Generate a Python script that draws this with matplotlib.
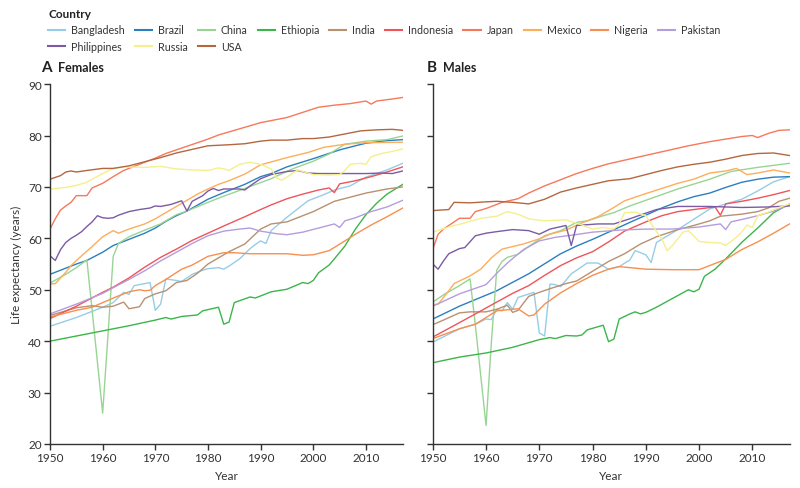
import matplotlib
matplotlib.use("Agg")
import matplotlib.pyplot as plt
from matplotlib.lines import Line2D

plt.rcParams['font.family'] = ['Lato', 'DejaVu Sans']

countries = ["Bangladesh", "Brazil", "China", "Ethiopia", "India", "Indonesia", "Japan",
             "Mexico", "Nigeria", "Pakistan", "Philippines", "Russia", "USA"]
colours = ["#96cde6", "#2b7fc0", "#98d594", "#3cb54a", "#b89170", "#f0545a", "#f7785a",
           "#fdae5b", "#f78f50", "#b59ddc", "#7b5aa6", "#f5ef8c", "#b4673f"]
year_ticks = [1950, 1960, 1970, 1980, 1990, 2000, 2010]
le_ticks = [20, 30, 40, 50, 60, 70, 80, 90]

# females: (year, life expectancy)
bangladesh_f = [(1950, 42.9), (1955, 44.6), (1960, 46.6), (1962, 47.5), (1963, 48.5), (1964, 49.5), (1965, 49.1),
                (1966, 50.8), (1969, 51.4), (1970, 46.0), (1971, 47.2), (1972, 52.1), (1974, 51.8), (1975, 51.6),
                (1977, 53.0), (1979, 53.8), (1980, 54.1), (1982, 54.3), (1983, 54.0), (1984, 54.6), (1985, 55.3),
                (1986, 56.0), (1988, 58.0), (1989, 58.8), (1990, 59.5), (1991, 59.0), (1992, 61.5), (1995, 64.1),
                (1999, 67.3), (2002, 68.5), (2004, 69.4), (2007, 70.2), (2010, 71.9), (2014, 73.3), (2017, 74.6)]
brazil_f = [(1950, 53.0), (1955, 55.0), (1957, 55.7), (1960, 57.3), (1962, 58.6), (1965, 59.8), (1968, 61.0),
            (1970, 62.0), (1972, 63.3), (1974, 64.4), (1976, 65.3), (1980, 67.6), (1983, 68.9), (1987, 70.5),
            (1990, 72.0), (1992, 72.6), (1995, 73.9), (2000, 75.5), (2005, 77.2), (2008, 78.0), (2010, 78.5),
            (2014, 79.0), (2017, 79.2)]
china_f = [(1950, 51.3), (1953, 53.0), (1955, 54.3), (1957, 55.8), (1958, 46.0), (1959, 36.0), (1960, 26.0),
           (1961, 41.0), (1962, 56.5), (1963, 59.0), (1965, 60.3), (1968, 61.6), (1971, 62.8), (1974, 64.6),
           (1976, 65.3), (1980, 67.0), (1983, 68.2), (1987, 69.7), (1992, 71.6), (1996, 73.5), (2000, 75.0),
           (2003, 76.4), (2006, 78.3), (2010, 78.9), (2014, 79.2), (2017, 79.9)]
ethiopia_f = [(1950, 40.0), (1955, 41.0), (1960, 42.0), (1965, 43.0), (1970, 44.1), (1972, 44.6), (1973, 44.3),
              (1975, 44.8), (1978, 45.1), (1979, 45.9), (1982, 46.6), (1983, 43.3), (1984, 43.7), (1985, 47.5),
              (1988, 48.6), (1989, 48.4), (1990, 48.8), (1992, 49.6), (1995, 50.1), (1998, 51.4), (1999, 51.2),
              (2000, 51.8), (2001, 53.3), (2003, 54.8), (2004, 56.0), (2006, 58.5), (2008, 61.8), (2010, 64.6),
              (2012, 66.8), (2014, 68.6), (2017, 70.5)]
india_f = [(1950, 45.0), (1955, 46.5), (1958, 46.9), (1960, 46.6), (1962, 46.8), (1964, 47.6), (1965, 46.3),
           (1967, 46.7), (1968, 48.3), (1970, 49.2), (1972, 49.8), (1974, 51.4), (1976, 51.8), (1978, 53.2),
           (1980, 55.0), (1984, 57.4), (1987, 58.9), (1990, 61.8), (1992, 62.8), (1995, 63.2), (2000, 65.2),
           (2004, 67.2), (2010, 68.8), (2014, 69.6), (2017, 70.0)]
indonesia_f = [(1950, 44.4), (1955, 46.8), (1960, 49.5), (1962, 50.5), (1965, 52.3), (1968, 54.4), (1971, 56.3),
               (1974, 57.9), (1977, 59.6), (1980, 61.0), (1983, 62.4), (1987, 64.2), (1990, 65.6), (1992, 66.5),
               (1995, 67.7), (1998, 68.6), (2001, 69.4), (2003, 69.8), (2004, 68.9), (2005, 70.6), (2008, 71.2),
               (2011, 72.0), (2014, 72.9), (2017, 73.9)]
japan_f = [(1950, 61.8), (1951, 63.8), (1952, 65.5), (1953, 66.3), (1954, 67.0), (1955, 68.3), (1957, 68.3),
           (1958, 69.8), (1960, 70.7), (1962, 72.0), (1964, 73.2), (1966, 74.0), (1968, 74.8), (1970, 75.6),
           (1972, 76.5), (1974, 77.2), (1976, 77.9), (1978, 78.6), (1980, 79.3), (1982, 80.1), (1985, 81.0),
           (1988, 81.9), (1990, 82.5), (1993, 83.1), (1995, 83.5), (1998, 84.5), (2001, 85.5), (2004, 85.9),
           (2007, 86.2), (2010, 86.7), (2011, 86.1), (2012, 86.7), (2015, 87.1), (2017, 87.4)]
mexico_f = [(1950, 51.1), (1951, 51.2), (1953, 53.4), (1954, 54.7), (1956, 56.6), (1958, 58.4), (1960, 60.3),
            (1962, 61.5), (1963, 61.0), (1965, 61.8), (1968, 62.8), (1970, 63.8), (1972, 65.0), (1974, 66.2),
            (1976, 67.4), (1978, 68.6), (1980, 69.6), (1982, 70.5), (1984, 71.2), (1987, 72.5), (1990, 74.3),
            (1995, 75.7), (1999, 76.7), (2002, 77.7), (2006, 78.3), (2010, 78.6), (2017, 78.7)]
nigeria_f = [(1950, 44.7), (1955, 46.0), (1958, 46.6), (1960, 47.5), (1963, 48.8), (1965, 49.6), (1967, 50.0),
             (1968, 49.8), (1969, 49.9), (1970, 50.8), (1972, 52.0), (1975, 54.0), (1977, 54.8), (1980, 56.5),
             (1983, 57.2), (1985, 57.2), (1988, 57.0), (1992, 57.0), (1995, 57.0), (1998, 56.7), (2000, 56.8),
             (2003, 57.6), (2006, 59.5), (2008, 60.8), (2011, 62.6), (2014, 64.2), (2017, 65.9)]
pakistan_f = [(1950, 45.3), (1955, 47.2), (1960, 49.3), (1962, 50.4), (1965, 52.0), (1968, 53.7), (1971, 55.6),
              (1974, 57.3), (1977, 59.0), (1980, 60.5), (1983, 61.4), (1986, 61.8), (1988, 62.0), (1990, 61.4),
              (1993, 60.9), (1995, 60.7), (1998, 61.2), (2001, 62.0), (2004, 62.8), (2005, 62.1), (2006, 63.4),
              (2008, 64.0), (2011, 65.2), (2014, 66.1), (2017, 67.4)]
philippines_f = [(1950, 56.6), (1951, 55.7), (1952, 57.8), (1953, 59.2), (1954, 60.0), (1955, 60.6), (1956, 61.3),
                 (1957, 62.3), (1958, 63.2), (1959, 64.4), (1960, 64.0), (1961, 63.9), (1962, 64.0), (1963, 64.5),
                 (1965, 65.2), (1967, 65.6), (1969, 65.9), (1970, 66.3), (1971, 66.2), (1973, 66.6), (1975, 67.3),
                 (1976, 65.3), (1977, 67.2), (1979, 68.3), (1980, 69.2), (1981, 69.7), (1982, 69.3), (1983, 69.6),
                 (1986, 69.6), (1987, 69.4), (1988, 70.2), (1990, 71.6), (1992, 72.4), (1995, 73.0), (1997, 73.2),
                 (1999, 72.7), (2001, 72.6), (2005, 72.6), (2010, 72.6), (2013, 72.7), (2015, 72.6), (2017, 73.1)]
russia_f = [(1950, 69.6), (1953, 69.9), (1955, 70.3), (1957, 70.9), (1958, 71.5), (1960, 72.6), (1962, 73.6),
            (1964, 73.9), (1968, 73.8), (1971, 74.0), (1974, 73.5), (1977, 73.3), (1980, 73.2), (1982, 73.7),
            (1983, 73.5), (1984, 73.2), (1986, 74.4), (1988, 74.8), (1990, 74.4), (1992, 73.5), (1993, 71.8),
            (1994, 71.3), (1995, 71.9), (1997, 73.3), (1998, 73.0), (2000, 72.4), (2003, 72.3), (2005, 72.4),
            (2006, 73.2), (2007, 74.4), (2009, 74.6), (2010, 74.4), (2011, 75.9), (2013, 76.5), (2015, 76.9),
            (2017, 77.4)]
usa_f = [(1950, 71.5), (1952, 72.2), (1953, 72.9), (1954, 73.1), (1955, 72.9), (1957, 73.2), (1960, 73.6),
         (1962, 73.6), (1965, 74.1), (1968, 74.9), (1971, 75.7), (1974, 76.6), (1977, 77.3), (1980, 78.0),
         (1984, 78.2), (1987, 78.4), (1990, 78.9), (1992, 79.1), (1995, 79.1), (1998, 79.4), (2000, 79.4),
         (2003, 79.7), (2006, 80.3), (2009, 80.9), (2012, 81.1), (2015, 81.2), (2017, 81.0)]

# males
bangladesh_m = [(1950, 39.8), (1955, 42.4), (1958, 43.3), (1960, 44.3), (1961, 44.2), (1962, 46.2), (1963, 45.9),
                (1964, 47.5), (1965, 46.2), (1966, 48.5), (1969, 49.5), (1970, 41.6), (1971, 41.0), (1972, 51.1),
                (1973, 51.0), (1974, 50.6), (1976, 53.1), (1979, 55.2), (1981, 55.2), (1983, 54.0), (1985, 54.5),
                (1987, 55.8), (1988, 57.6), (1990, 56.8), (1991, 55.3), (1992, 59.2), (1996, 61.7), (1999, 63.7),
                (2002, 65.7), (2005, 66.7), (2008, 67.6), (2011, 69.2), (2014, 71.0), (2017, 72.0)]
brazil_m = [(1950, 44.3), (1955, 46.8), (1962, 49.8), (1968, 53.1), (1974, 57.0), (1977, 58.5), (1980, 59.8),
            (1983, 61.2), (1987, 63.1), (1990, 64.5), (1993, 65.9), (1996, 67.1), (1999, 68.1), (2002, 68.8),
            (2005, 69.9), (2008, 70.9), (2011, 71.5), (2014, 71.9), (2017, 72.0)]
china_m = [(1950, 47.6), (1952, 49.0), (1955, 50.8), (1957, 52.1), (1958, 43.0), (1959, 33.3), (1960, 23.6),
           (1961, 39.8), (1962, 53.8), (1963, 55.5), (1964, 56.3), (1966, 56.9), (1968, 58.4), (1971, 60.5),
           (1974, 61.5), (1977, 63.1), (1979, 63.4), (1982, 64.4), (1984, 65.0), (1987, 66.3), (1990, 67.4),
           (1996, 69.6), (2002, 71.5), (2006, 73.0), (2011, 73.8), (2017, 74.6)]
ethiopia_m = [(1950, 35.8), (1955, 36.9), (1960, 37.7), (1965, 38.8), (1970, 40.3), (1972, 40.7), (1973, 40.5),
              (1975, 41.1), (1977, 41.0), (1978, 41.2), (1979, 42.2), (1982, 43.1), (1983, 39.9), (1984, 40.4),
              (1985, 44.3), (1987, 45.3), (1988, 45.7), (1989, 45.3), (1990, 45.6), (1992, 46.6), (1995, 48.3),
              (1998, 50.0), (1999, 49.6), (2000, 50.1), (2001, 52.6), (2003, 54.0), (2005, 56.0), (2008, 59.2),
              (2011, 62.0), (2014, 65.0), (2017, 66.7)]
india_m = [(1950, 43.2), (1952, 44.1), (1955, 45.5), (1957, 45.7), (1960, 45.7), (1962, 46.2), (1964, 47.0),
           (1965, 45.6), (1966, 46.0), (1968, 48.7), (1970, 49.5), (1972, 50.2), (1975, 51.2), (1977, 51.7),
           (1980, 53.6), (1983, 55.5), (1986, 57.0), (1989, 58.9), (1992, 60.3), (1996, 61.7), (1999, 62.5),
           (2002, 63.4), (2004, 64.3), (2008, 64.7), (2011, 65.2), (2013, 65.9), (2015, 67.2), (2017, 67.8)]
indonesia_m = [(1950, 40.8), (1955, 43.6), (1958, 45.3), (1962, 47.6), (1965, 49.3), (1968, 50.8), (1971, 52.8),
               (1974, 54.7), (1977, 56.2), (1980, 57.4), (1983, 59.3), (1986, 61.4), (1990, 63.2), (1993, 64.4),
               (1996, 65.2), (1999, 65.6), (2003, 66.1), (2004, 64.5), (2005, 66.7), (2008, 67.2), (2011, 67.8),
               (2014, 68.5), (2017, 69.3)]
japan_m = [(1950, 57.9), (1951, 60.8), (1952, 61.8), (1953, 62.5), (1955, 63.9), (1957, 63.9), (1958, 65.2),
           (1960, 65.8), (1963, 67.0), (1966, 67.7), (1968, 68.8), (1971, 70.2), (1974, 71.4), (1977, 72.6),
           (1980, 73.6), (1983, 74.5), (1986, 75.2), (1989, 75.9), (1992, 76.6), (1995, 77.3), (1998, 78.0),
           (2002, 78.8), (2005, 79.3), (2008, 79.8), (2010, 80.0), (2011, 79.6), (2013, 80.4), (2015, 81.0),
           (2017, 81.1)]
mexico_m = [(1950, 47.1), (1951, 47.2), (1953, 49.8), (1954, 51.2), (1957, 52.7), (1959, 54.0), (1961, 56.2),
            (1963, 57.9), (1967, 58.9), (1970, 59.9), (1972, 60.8), (1975, 61.6), (1978, 63.0), (1981, 64.2),
            (1984, 66.0), (1986, 67.3), (1990, 68.7), (1993, 69.7), (1996, 70.7), (1999, 71.5), (2002, 72.7),
            (2005, 73.1), (2007, 73.6), (2009, 72.4), (2011, 72.7), (2014, 73.3), (2017, 72.7)]
nigeria_m = [(1950, 40.5), (1955, 42.4), (1958, 43.3), (1962, 45.9), (1966, 46.3), (1968, 44.9), (1969, 45.1),
             (1971, 47.2), (1974, 49.4), (1977, 51.2), (1980, 52.8), (1983, 54.0), (1985, 54.5), (1990, 54.0),
             (1995, 53.9), (2000, 53.9), (2002, 54.7), (2005, 55.9), (2008, 57.8), (2011, 59.3), (2014, 61.0),
             (2017, 62.8)]
pakistan_m = [(1950, 46.8), (1955, 49.2), (1960, 51.0), (1962, 53.2), (1964, 55.2), (1967, 57.8), (1970, 59.5),
              (1973, 60.2), (1976, 60.6), (1980, 61.2), (1985, 61.6), (1990, 61.8), (1995, 61.8), (2000, 62.2),
              (2004, 62.8), (2005, 61.7), (2006, 63.2), (2009, 63.9), (2011, 64.4), (2014, 65.3), (2017, 66.5)]
philippines_m = [(1950, 55.0), (1951, 54.0), (1952, 55.6), (1953, 57.0), (1955, 58.0), (1956, 58.2), (1958, 60.5),
                 (1960, 61.0), (1962, 61.3), (1965, 61.7), (1968, 61.5), (1970, 60.8), (1972, 61.8), (1975, 62.5),
                 (1976, 58.6), (1977, 62.5), (1981, 62.8), (1984, 62.8), (1987, 63.8), (1990, 64.9), (1992, 65.6),
                 (1996, 66.2), (2002, 66.2), (2008, 66.0), (2013, 66.1), (2017, 66.3)]
russia_m = [(1950, 61.2), (1953, 62.2), (1956, 63.0), (1959, 63.9), (1962, 64.3), (1964, 65.2), (1966, 64.7),
            (1968, 63.8), (1971, 63.4), (1975, 63.6), (1978, 62.6), (1980, 61.8), (1982, 62.1), (1984, 61.8),
            (1985, 62.8), (1986, 65.0), (1988, 65.1), (1990, 64.4), (1991, 62.8), (1993, 59.9), (1994, 57.6),
            (1995, 58.6), (1997, 61.2), (1998, 61.5), (1999, 60.5), (2000, 59.4), (2002, 59.2), (2004, 59.1),
            (2005, 58.6), (2007, 60.2), (2008, 61.2), (2009, 62.6), (2010, 62.1), (2011, 64.4), (2013, 65.1),
            (2015, 66.0), (2017, 66.7)]
usa_m = [(1950, 65.4), (1953, 65.6), (1954, 67.0), (1957, 66.9), (1960, 67.1), (1962, 67.2), (1965, 67.0),
         (1968, 66.7), (1971, 67.6), (1974, 69.0), (1977, 69.8), (1980, 70.5), (1983, 71.2), (1987, 71.6),
         (1990, 72.4), (1993, 73.2), (1996, 73.9), (1999, 74.4), (2002, 74.8), (2005, 75.4), (2008, 76.1),
         (2011, 76.5), (2014, 76.6), (2017, 76.1)]

females = [bangladesh_f, brazil_f, china_f, ethiopia_f, india_f, indonesia_f, japan_f,
           mexico_f, nigeria_f, pakistan_f, philippines_f, russia_f, usa_f]
males = [bangladesh_m, brazil_m, china_m, ethiopia_m, india_m, indonesia_m, japan_m,
         mexico_m, nigeria_m, pakistan_m, philippines_m, russia_m, usa_m]

fig = plt.figure(figsize=(8, 4.89), dpi=100)
ax1 = fig.add_axes([0.0625, 0.090, 0.441, 0.736])
ax2 = fig.add_axes([0.541, 0.090, 0.446, 0.736])

for ax, series in [(ax1, females), (ax2, males)]:
    for name, col, pts in zip(countries, colours, series):
        ax.plot([p[0] for p in pts], [p[1] for p in pts], color=col, lw=1.0, label=name)
    ax.set_xlim(1950, 2017)
    ax.set_ylim(20, 90)
    ax.set_xticks(year_ticks)
    ax.set_yticks(le_ticks)
    for s in ["top", "right"]:
        ax.spines[s].set_visible(False)
    for s in ["left", "bottom"]:
        ax.spines[s].set_color("#333333")
        ax.spines[s].set_linewidth(1.0)
    ax.tick_params(length=4, width=1.0, color="#333333", labelsize=8.5, labelcolor="#333333", pad=2)
    ax.set_xlabel("Year", fontsize=8.5, color="#333333", labelpad=5)

ax1.set_ylabel("Life expectancy (years)", fontsize=8.5, color="#333333", labelpad=4)
ax2.tick_params(axis="y", labelleft=False)

fig.text(0.051, 0.861, "A", fontsize=11, fontweight="bold", color="#222222", va="center")
fig.text(0.073, 0.861, "Females", fontsize=9, fontweight="bold", color="#222222", va="center")
fig.text(0.534, 0.861, "B", fontsize=11, fontweight="bold", color="#222222", va="center")
fig.text(0.554, 0.861, "Males", fontsize=9, fontweight="bold", color="#222222", va="center")

fig.text(0.061, 0.971, "Country", fontsize=8.5, fontweight="bold", color="#222222", va="center")

# legend filled column by column, so interleave to read row by row
order = [0, 10, 1, 11, 2, 12, 3, 4, 5, 6, 7, 8, 9]
handles = [Line2D([], [], color=colours[i], lw=1.5) for i in order]
labels = [countries[i] for i in order]
fig.legend(handles, labels, loc="upper left", bbox_to_anchor=(0.06, 0.948), ncol=10,
           frameon=False, fontsize=7.7, handlelength=1.6, handletextpad=0.55,
           columnspacing=0.95, labelspacing=0.5, borderaxespad=0, borderpad=0,
           labelcolor="#333333")

fig.savefig("out.png", dpi=100)
